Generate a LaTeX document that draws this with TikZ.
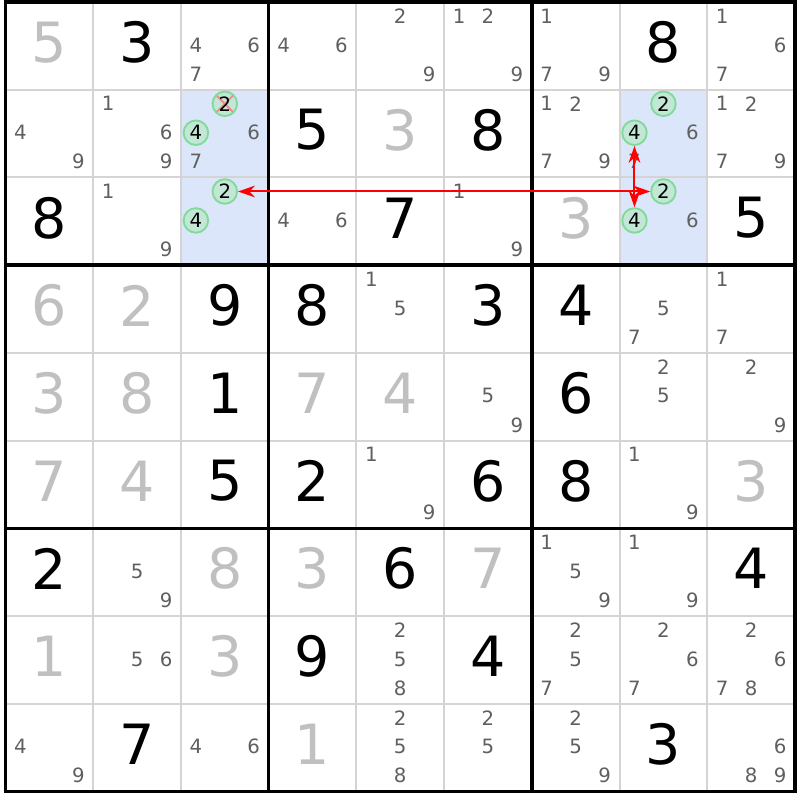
\documentclass[tikz,border=0pt]{standalone}
\usepackage{fontspec}
\setmainfont{DejaVu Sans}
\usetikzlibrary{arrows.meta}
\definecolor{grisCase}{HTML}{C0C0C0}
\definecolor{grisCand}{HTML}{5F5F5F}
\definecolor{grisTrait}{HTML}{D4D4D4}
\definecolor{bleuSurligne}{HTML}{DCE6FA}
\definecolor{vertBord}{HTML}{80DA98}
\definecolor{vertFond}{HTML}{C2E7D6}
\definecolor{rougeBarre}{HTML}{F08C8C}
\begin{document}
\begin{tikzpicture}[xscale=1,yscale=-1]
		% Styles (MODIFIABLES)
		\tikzstyle{traitFin}=[draw=grisTrait,line width=0.65pt]
		\tikzstyle{traitBloc}=[draw=black,line width=1.1pt]
		\tikzstyle{surligne}=[fill=bleuSurligne]
		\tikzstyle{chiffre}=[inner sep=0pt,font=\fontsize{18}{18}\selectfont]
		\tikzstyle{candidat}=[inner sep=0pt,text=grisCand,font=\fontsize{6.4}{7}\selectfont]
		\tikzstyle{cercle}=[circle,draw=vertBord,fill=vertFond,line width=0.6pt,minimum size=0.28cm,inner sep=0pt,font=\fontsize{6.4}{7}\selectfont]
		\tikzstyle{barre}=[path picture={\draw[rougeBarre,line width=0.6pt] (path picture bounding box.north west) -- (path picture bounding box.south east) (path picture bounding box.north east) -- (path picture bounding box.south west);}]
		\tikzstyle{lienFort}=[{Stealth[length=5.5pt,width=3.8pt]}-{Stealth[length=5.5pt,width=3.8pt]},red,line width=0.65pt]
		% Dimensions (MODIFIABLES)
		\def\DecalX{0.17}
		\def\DecalY{0.16}
		\def\Pas{0.33}
		\def\HautChiffre{0.46}
		% Cadre
		\useasboundingbox[fill=white] (-0.063,-0.023) rectangle (9.057,9.097);
		% Cases surlignees
		\fill[surligne] (2,1) rectangle (3,3);
		\fill[surligne] (7,1) rectangle (8,3);
		% Grille
		\foreach \i in {1,2,4,5,7,8} {
			\draw[traitFin] (\i,0) -- (\i,9);
			\draw[traitFin] (0,\i) -- (9,\i);
		}
		\foreach \i in {0,3,6,9} {
			\draw[traitBloc] (\i,-0.02) -- (\i,9.02);
			\draw[traitBloc] (-0.02,\i) -- (9.02,\i);
		}
		% Chiffres places (ligne/colonne/valeur/couleur)
		\foreach \r/\c/\d/\coul in {1/1/5/grisCase,1/2/3/black,1/8/8/black,
			2/4/5/black,2/5/3/grisCase,2/6/8/black,
			3/1/8/black,3/5/7/black,3/7/3/grisCase,3/9/5/black,
			4/1/6/grisCase,4/2/2/grisCase,4/3/9/black,4/4/8/black,4/6/3/black,4/7/4/black,
			5/1/3/grisCase,5/2/8/grisCase,5/3/1/black,5/4/7/grisCase,5/5/4/grisCase,5/7/6/black,
			6/1/7/grisCase,6/2/4/grisCase,6/3/5/black,6/4/2/black,6/6/6/black,6/7/8/black,6/9/3/grisCase,
			7/1/2/black,7/3/8/grisCase,7/4/3/grisCase,7/5/6/black,7/6/7/grisCase,7/9/4/black,
			8/1/1/grisCase,8/3/3/grisCase,8/4/9/black,8/6/4/black,
			9/2/7/black,9/4/1/grisCase,9/8/3/black}
			\node[chiffre,text=\coul] (v\r\c) at ({\c-0.5},{\r-1+\HautChiffre}) {\d};
		% Candidats (ligne/colonne/liste)
		\foreach \r/\c/\liste in {1/3/{4,6,7},1/4/{4,6},1/5/{2,9},1/6/{1,2,9},1/7/{1,7,9},1/9/{1,6,7},
			2/1/{4,9},2/2/{1,6,9},2/3/{6,7},2/7/{1,2,7,9},2/8/{6,7},2/9/{1,2,7,9},
			3/2/{1,9},3/4/{4,6},3/6/{1,9},3/8/{6},
			4/5/{1,5},4/8/{5,7},4/9/{1,7},
			5/6/{5,9},5/8/{2,5},5/9/{2,9},
			6/5/{1,9},6/8/{1,9},
			7/2/{5,9},7/7/{1,5,9},7/8/{1,9},
			8/2/{5,6},8/5/{2,5,8},8/7/{2,5,7},8/8/{2,6,7},8/9/{2,6,7,8},
			9/1/{4,9},9/3/{4,6},9/5/{2,5,8},9/6/{2,5},9/7/{2,5,9},9/9/{6,8,9}}
			\foreach \k in \liste {
				\pgfmathsetmacro\kx{\c-1+\DecalX+\Pas*mod(\k-1,3)}
				\pgfmathsetmacro\ky{\r-1+\DecalY+\Pas*int((\k-1)/3)}
				\node[candidat] (k\r\c\k) at (\kx,\ky) {\k};
			}
		% Candidats entoures
		\node[cercle,barre] (c23d2) at (2.5,1.16) {2};
		\node[cercle] (c23d4) at (2.17,1.49) {4};
		\node[cercle] (c33d2) at (2.5,2.16) {2};
		\node[cercle] (c33d4) at (2.17,2.49) {4};
		\node[cercle] (c28d2) at (7.5,1.16) {2};
		\node[cercle] (c28d4) at (7.17,1.49) {4};
		\node[cercle] (c38d2) at (7.5,2.16) {2};
		\node[cercle] (c38d4) at (7.17,2.49) {4};
		% Liens
		\draw[lienFort] (c33d2) -- (c38d2);
		\draw[lienFort] (c28d4) -- (c38d4);
\end{tikzpicture}
\end{document}
